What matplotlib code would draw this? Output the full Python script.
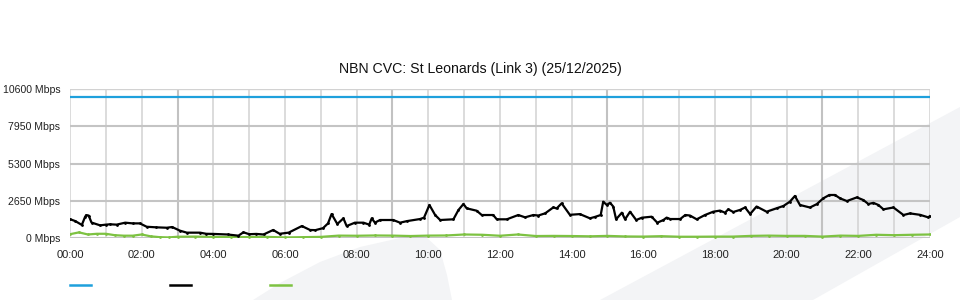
#!/usr/bin/env python3
import numpy as np
import matplotlib
matplotlib.use("Agg")
import matplotlib.pyplot as plt
from matplotlib.patches import Polygon
from matplotlib.lines import Line2D

plt.rcParams['font.family'] = ['Liberation Sans', 'DejaVu Sans']

title = "NBN CVC: St Leonards (Link 3) (25/12/2025)"

# capacity (blue)
cap_hours = [0, 24]
cap_mbps = [10000, 10000]

# traffic in (black)
in_hours = [0.00, 0.15, 0.33, 0.42, 0.45, 0.52, 0.60, 0.84, 1.00, 1.12, 1.30, 1.54, 1.75, 1.95,
            2.14, 2.40, 2.70, 2.85, 3.07, 3.26, 3.63, 3.80, 4.00, 4.40, 4.70, 4.84, 5.00, 5.20,
            5.40, 5.67, 5.85, 6.10, 6.47, 6.70, 6.85, 7.06, 7.20, 7.30, 7.46, 7.63, 7.72, 7.95,
            8.19, 8.35, 8.42, 8.51, 8.65, 9.02, 9.21, 9.40, 9.77, 9.88, 10.03, 10.19, 10.33,
            10.70, 10.84, 10.98, 11.07, 11.35, 11.49, 11.81, 11.91, 12.19, 12.51, 12.70, 12.93,
            13.07, 13.26, 13.49, 13.58, 13.72, 13.95, 14.23, 14.51, 14.65, 14.81, 14.88, 14.98,
            15.07, 15.16, 15.24, 15.40, 15.49, 15.63, 15.80, 15.96, 16.23, 16.39, 16.56, 16.65,
            16.75, 17.03, 17.17, 17.30, 17.49, 17.72, 17.95, 18.14, 18.28, 18.37, 18.51, 18.70,
            18.84, 18.98, 19.16, 19.44, 19.72, 19.91, 20.09, 20.23, 20.37, 20.65, 20.84, 21.02,
            21.19, 21.35, 21.49, 21.68, 21.96, 22.14, 22.28, 22.42, 22.56, 22.70, 22.98, 23.26,
            23.44, 23.72, 23.95, 24.00]
in_mbps = [1340, 1200, 930, 1500, 1620, 1600, 1100, 900, 950, 975, 950, 1090, 1040, 1040,
           800, 760, 730, 780, 520, 380, 380, 300, 290, 250, 165, 405, 270, 290,
           250, 570, 300, 380, 850, 570, 560, 700, 1040, 1705, 995, 1400, 850, 1090,
           1090, 950, 1400, 1090, 1280, 1280, 1090, 1200, 1350, 1450, 2350, 1635, 1280,
           1330, 1990, 2420, 2110, 1940, 1635, 1635, 1330, 1330, 1635, 1470, 1635,
           1600, 1755, 2180, 2100, 2465, 1650, 1700, 1400, 1500, 1635, 2585, 2350,
           2510, 2240, 1330, 1800, 1330, 1870, 1280, 1445, 1515, 1090, 1280, 1450,
           1350, 1350, 1635, 1600, 1330, 1635, 1870, 1950, 1800, 2040, 1850, 2000,
           2170, 1705, 2240, 1870, 2110, 2280, 2585, 2990, 2350, 2170, 2410, 2820,
           3060, 3060, 2820, 2630, 2890, 2700, 2420, 2500, 2350, 2040, 2170, 1635,
           1750, 1650, 1470, 1565]

# traffic out (green)
out_hours = [0.0, 0.25, 0.5, 0.75, 1.0, 1.25, 1.5, 1.75, 2.0, 2.25, 2.5, 2.75, 3.0, 3.5,
             4.0, 4.5, 5.0, 5.5, 6.0, 6.5, 7.0, 7.5, 8.0, 8.5, 9.0, 9.5, 10.0, 10.5, 11.0,
             11.5, 12.0, 12.5, 13.0, 13.5, 14.0, 14.5, 15.0, 15.5, 16.0, 16.5, 17.0, 17.5,
             18.0, 18.5, 19.0, 19.5, 20.0, 20.5, 21.0, 21.5, 22.0, 22.5, 23.0, 23.5, 24.0]
out_mbps = [270, 400, 250, 300, 300, 200, 165, 165, 250, 120, 60, 40, 90, 100,
            80, 60, 70, 80, 40, 60, 80, 170, 160, 180, 170, 140, 170, 180, 250,
            230, 160, 250, 140, 150, 140, 120, 150, 110, 100, 130, 90, 90,
            100, 100, 150, 170, 150, 150, 100, 170, 150, 230, 200, 230, 250]

hour_ticks = list(range(0, 25, 2))
hour_labels = ["%02d:00" % h for h in hour_ticks]
y_ticks = [0, 2650, 5300, 7950, 10600]
y_labels = ["%d Mbps" % v for v in y_ticks]

W, H = 960, 300
fig = plt.figure(figsize=(9.6, 3.0), dpi=100)

# faint background watermark, in a full-figure axes drawn first
bg = fig.add_axes([0, 0, 1, 1], zorder=-5)
bg.set_xlim(0, W)
bg.set_ylim(H, 0)
bg.axis('off')
wm = '#f3f4f6'
bg.add_patch(Polygon([(253, 300), (280, 283), (320, 262), (360, 247), (400, 238),
                      (425, 236), (440, 250), (447, 275), (452, 300)],
                     closed=True, facecolor=wm, edgecolor='none'))
bg.add_patch(Polygon([(600, 300), (960, 107), (960, 217), (813, 300)],
                     closed=True, facecolor=wm, edgecolor='none'))

ax = fig.add_axes([70 / W, 1 - 238 / H, 860 / W, 149 / H], zorder=1)
ax.patch.set_alpha(0)

# grid
for h in range(0, 25):
    dark = h % 6 == 3
    ax.axvline(h, color='#c2c2c2' if dark else '#d2d2d2', lw=1.5 if dark else 1.1, zorder=1)
for v in y_ticks:
    top = v == y_ticks[-1]
    ax.axhline(v, color='#d2d2d2' if top else '#c4c4c4', lw=1.0 if top else 1.5, zorder=1)

ax.plot(cap_hours, cap_mbps, color='#1ea0dc', lw=1.6, zorder=3)
ax.plot(in_hours, in_mbps, color='black', lw=1.6, marker='.', ms=2, zorder=4)
ax.plot(out_hours, out_mbps, color='#7dc242', lw=1.6, marker='.', ms=2,
        mfc='#9ad46a', zorder=3)

ax.set_xlim(0, 24)
ax.set_ylim(0, 10600)
ax.set_xticks(hour_ticks)
ax.set_xticklabels(hour_labels)
ax.set_yticks(y_ticks)
ax.set_yticklabels(y_labels)
ax.tick_params(axis='x', length=0, pad=9, labelsize=8, colors='#222222')
ax.tick_params(axis='y', length=0, pad=7, labelsize=7.6, colors='#222222')
for s in ax.spines.values():
    s.set_visible(False)

fig.text(0.5, 1 - 69 / H, title, ha='center', va='center', fontsize=10.2, color='#111111')

# legend swatches, no labels
for x0, c in [(70, '#1ea0dc'), (170, 'black'), (270, '#7dc242')]:
    fig.lines.append(Line2D([x0 / W, (x0 + 21) / W], [1 - 285 / H] * 2,
                            transform=fig.transFigure, color=c, lw=1.8))

fig.savefig("out.png", dpi=100)
